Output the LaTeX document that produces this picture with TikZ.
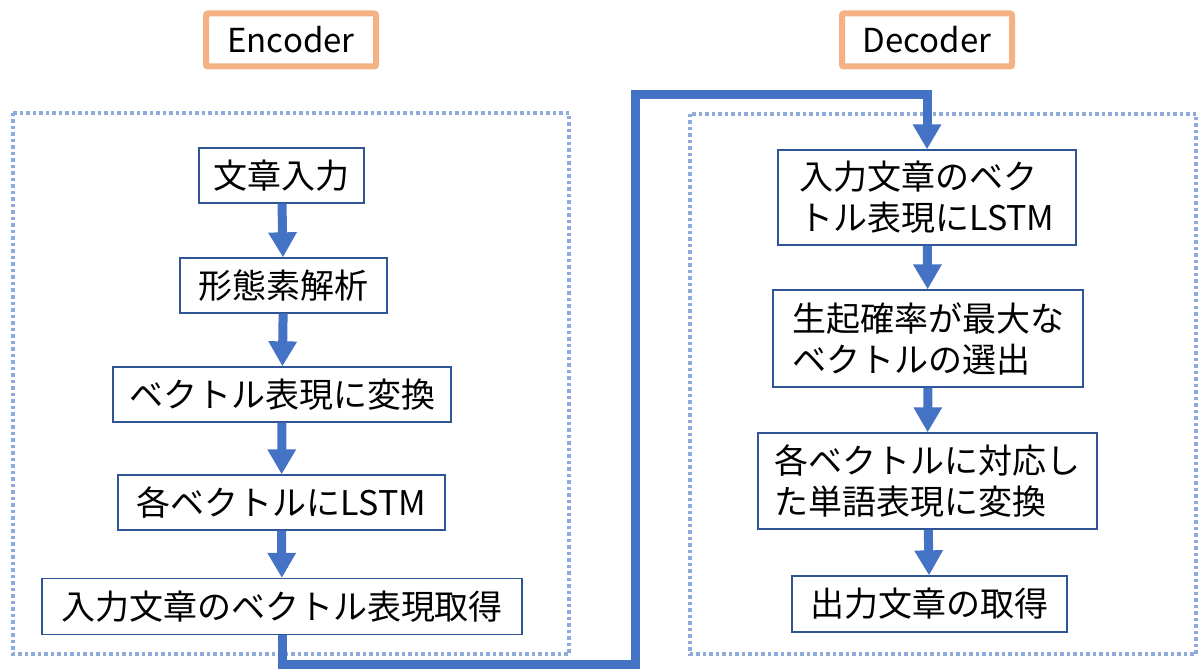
\documentclass[tikz,border=0pt]{standalone}
\usepackage{fontspec}
\newfontfamily\jp{Noto Sans CJK JP}
\usetikzlibrary{arrows.meta}
\definecolor{boxblue}{HTML}{2F5597}
\definecolor{arrblue}{HTML}{4472C4}
\definecolor{dotblue}{HTML}{8FAADC}
\definecolor{lblorange}{HTML}{F4B183}
\tikzset{
  stepbox/.style={draw=boxblue, line width=1.3pt, fill=white, inner sep=0pt,
    align=left, font=\jp\fontsize{34}{41}\selectfont},
  lbl/.style={draw=lblorange, line width=6pt, rounded corners=2pt, fill=white,
    inner sep=0pt, minimum width=170pt, minimum height=53pt,
    font=\jp\fontsize{33}{40}\selectfont},
  frame/.style={draw=dotblue, line width=3.5pt, dash pattern=on 3.5pt off 3pt},
  flow/.style={draw=arrblue, line width=9pt,
    -{Triangle[width=27pt,length=25pt]}},
}
\begin{document}
\begin{tikzpicture}[x=1pt,y=-1pt]
\useasboundingbox (0,0) rectangle (1200,671);
% frames
\draw[frame] (13,113) rectangle (569,654);
\draw[frame] (690,114) rectangle (1196,654);
% labels
\node[lbl] (enc) at (291,40) {Encoder};
\node[lbl] (dec) at (927,40) {Decoder};
% encoder steps
\node[stepbox, minimum width=165pt, minimum height=55pt] (e1) at (281.5,175.5) {文章入力};
\node[stepbox, minimum width=207pt, minimum height=55pt] (e2) at (283.5,285.5) {形態素解析};
\node[stepbox, minimum width=338pt, minimum height=55pt] (e3) at (282,394.5) {ベクトル表現に変換};
\node[stepbox, minimum width=327pt, minimum height=55pt] (e4) at (281.5,502.5) {各ベクトルにLSTM};
\node[stepbox, minimum width=480pt, minimum height=56pt] (e5) at (282,606.5) {入力文章のベクトル表現取得};
% decoder steps
\node[stepbox, minimum width=298pt, minimum height=95pt] (d1) at (927,197.5) {入力文章のベク\\トル表現にLSTM};
\node[stepbox, minimum width=310pt, minimum height=97pt] (d2) at (928,338.5) {生起確率が最大な\\ベクトルの選出};
\node[stepbox, minimum width=339pt, minimum height=96pt] (d3) at (927.5,481) {各ベクトルに対応し\\た単語表現に変換};
\node[stepbox, minimum width=275pt, minimum height=56pt] (d4) at (929.5,604) {出力文章の取得};
% connectors
\coordinate (t1) at (635,664);
\coordinate (t2) at (635,95);
\draw[flow] (e1) -- (e2);
\draw[flow] (e2) -- (e3);
\draw[flow] (e3) -- (e4);
\draw[flow] (e4) -- (e5);
\draw[flow, line join=miter] (e5.south) |- (t1) -- (t2) -| (d1.north);
\draw[flow] (d1) -- (d2);
\draw[flow] (d2) -- (d3);
\draw[flow] (d3) -- (d4);
\end{tikzpicture}
\end{document}
